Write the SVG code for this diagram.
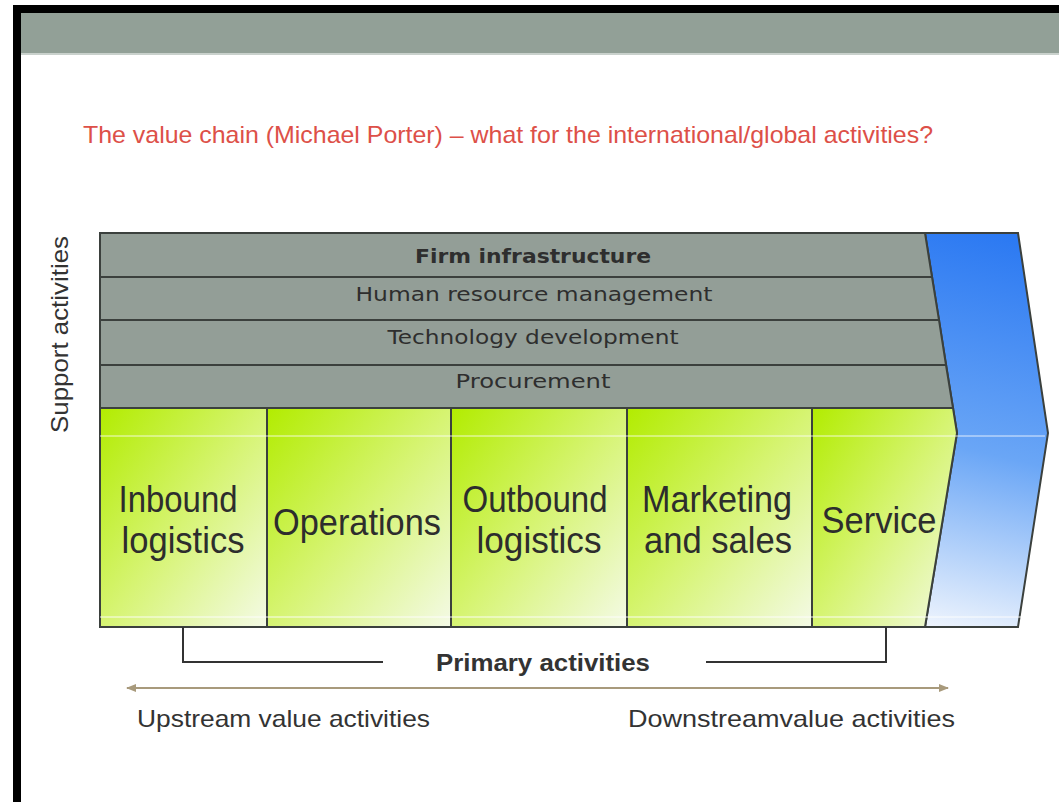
<svg xmlns="http://www.w3.org/2000/svg" width="1059" height="802" viewBox="0 0 1059 802">
  <defs>
    <linearGradient id="green" x1="0" y1="0" x2="1" y2="1">
      <stop offset="0" stop-color="#b2ec00"/>
      <stop offset="0.5" stop-color="#d6f472"/>
      <stop offset="1" stop-color="#f4fae6"/>
    </linearGradient>
    <linearGradient id="blue" gradientUnits="userSpaceOnUse" x1="1020" y1="233" x2="930" y2="627">
      <stop offset="0" stop-color="#2a78f2"/>
      <stop offset="0.55" stop-color="#6aa6f6"/>
      <stop offset="1" stop-color="#eef4fd"/>
    </linearGradient>
    <marker id="ah" viewBox="0 0 10 10" refX="9" refY="5" markerWidth="5" markerHeight="5" orient="auto-start-reverse">
      <path d="M0,1 L10,5 L0,9 z" fill="#a89a7c"/>
    </marker>
    <style>
      .sup { fill: #939e97; stroke: #3b403d; stroke-width: 2; }
      .prim { fill: url(#green); stroke: #3b403d; stroke-width: 2; }
      .suptxt { font-family: "DejaVu Sans", "Liberation Sans", sans-serif; font-size: 20px; fill: #2e2e2e; text-anchor: middle; }
      .ptxt { font-family: "Liberation Sans", Arial, sans-serif; font-size: 37px; fill: #2d2d2d; text-anchor: middle; }
      .lbl { font-family: "Liberation Sans", Arial, sans-serif; font-size: 24px; fill: #333333; }
      .brk { fill: none; stroke: #333333; stroke-width: 2; }
    </style>
  </defs>

  <!-- slide frame -->
  <rect x="0" y="0" width="1059" height="802" fill="#ffffff"/>
  <rect x="13" y="5" width="1046" height="8" fill="#000000"/>
  <rect x="13" y="5" width="8" height="797" fill="#000000"/>
  <rect x="21" y="13" width="1038" height="40" fill="#92a097"/>
  <rect x="21" y="53" width="1038" height="2" fill="#c9d1cc"/>

  <!-- title -->
  <text x="83" y="143" font-family="Liberation Sans, Arial, sans-serif" font-size="24" fill="#dd5048" textLength="850" lengthAdjust="spacingAndGlyphs">The value  chain (Michael Porter) – what for the international/global  activities?</text>

  <!-- support activities label -->
  <text transform="translate(68,433) rotate(-90)" x="0" y="0" class="lbl" textLength="197" lengthAdjust="spacingAndGlyphs">Support activities</text>

  <!-- margin chevron -->
  <g id="margin">
    <polygon points="925,233 1018,233 1048,433 1018,627 925,627 957,433" fill="url(#blue)" stroke="#3b403d" stroke-width="2"/>
  </g>

  <!-- support rows -->
  <g id="firm-infrastructure">
    <polygon class="sup" points="100,233 925,233 932,277 100,277"/>
    <text class="suptxt" x="533" y="263" font-weight="bold" textLength="236" lengthAdjust="spacingAndGlyphs">Firm infrastructure</text>
  </g>
  <g id="human-resource-management">
    <polygon class="sup" points="100,277 932,277 939,320 100,320"/>
    <text class="suptxt" x="534" y="301" textLength="357" lengthAdjust="spacingAndGlyphs">Human resource management</text>
  </g>
  <g id="technology-development">
    <polygon class="sup" points="100,320 939,320 946,365 100,365"/>
    <text class="suptxt" x="533" y="344" textLength="291" lengthAdjust="spacingAndGlyphs">Technology development</text>
  </g>
  <g id="procurement">
    <polygon class="sup" points="100,365 946,365 953,408 100,408"/>
    <text class="suptxt" x="533" y="388" textLength="155" lengthAdjust="spacingAndGlyphs">Procurement</text>
  </g>

  <!-- primary activities -->
  <g id="inbound-logistics">
    <rect class="prim" x="100" y="408" width="167" height="219"/>
    <text class="ptxt" x="178" y="512" textLength="119" lengthAdjust="spacingAndGlyphs">Inbound</text>
    <text class="ptxt" x="183" y="553" textLength="123" lengthAdjust="spacingAndGlyphs">logistics</text>
  </g>
  <g id="operations">
    <rect class="prim" x="267" y="408" width="184" height="219"/>
    <text class="ptxt" x="357" y="535" textLength="168" lengthAdjust="spacingAndGlyphs">Operations</text>
  </g>
  <g id="outbound-logistics">
    <rect class="prim" x="451" y="408" width="176" height="219"/>
    <text class="ptxt" x="535" y="512" textLength="145" lengthAdjust="spacingAndGlyphs">Outbound</text>
    <text class="ptxt" x="539" y="553" textLength="125" lengthAdjust="spacingAndGlyphs">logistics</text>
  </g>
  <g id="marketing-and-sales">
    <rect class="prim" x="627" y="408" width="185" height="219"/>
    <text class="ptxt" x="717" y="512" textLength="150" lengthAdjust="spacingAndGlyphs">Marketing</text>
    <text class="ptxt" x="718" y="553" textLength="148" lengthAdjust="spacingAndGlyphs">and sales</text>
  </g>
  <g id="service">
    <polygon class="prim" points="812,408 953,408 957,433 925,627 812,627"/>
    <text class="ptxt" x="879" y="533" textLength="115" lengthAdjust="spacingAndGlyphs">Service</text>
  </g>

  <!-- scan artifact lines -->
  <line x1="100" y1="436" x2="1045" y2="436" stroke="#ffffff" stroke-width="1" opacity="0.8"/>
  <line x1="100" y1="617" x2="1021" y2="617" stroke="#ffffff" stroke-width="1" opacity="0.9"/>

  <!-- connectors -->
  <g id="connectors">
    <polyline class="brk" points="383,662 183,662 183,627"/>
    <polyline class="brk" points="706,662 886,662 886,627"/>
    <line x1="127" y1="688" x2="948" y2="688" stroke="#a89a7c" stroke-width="2" marker-start="url(#ah)" marker-end="url(#ah)"/>
  </g>

  <text x="543" y="671" class="lbl" font-weight="bold" text-anchor="middle" textLength="214" lengthAdjust="spacingAndGlyphs">Primary activities</text>
  <text x="137" y="727" class="lbl" textLength="293" lengthAdjust="spacingAndGlyphs">Upstream value activities</text>
  <text x="628" y="727" class="lbl" textLength="327" lengthAdjust="spacingAndGlyphs">Downstreamvalue activities</text>
</svg>
